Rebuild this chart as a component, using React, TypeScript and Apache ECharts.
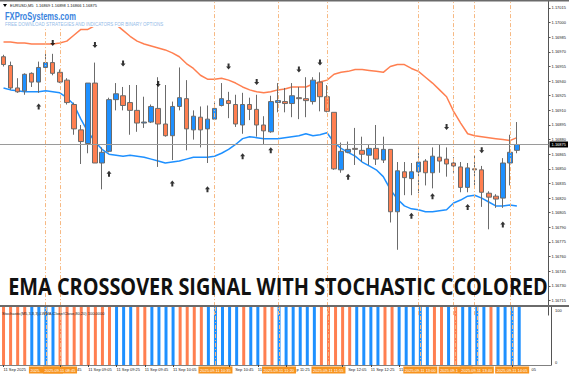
import React, { useEffect, useRef } from 'react';
import * as echarts from 'echarts';

// ---- data (EURUSD M5, 11 Sep 2025, first bar 08:05) ----
const candleOpen = [1.16965,1.16956,1.16933,1.16930,1.16948,1.16939,1.16954,1.16959,1.16949,1.16941,1.16916,1.16890,1.16876,1.16938,1.16856,1.16868,1.16921,1.16925,1.16918,1.16910,1.16897,1.16898,1.16912,1.16896,1.16884,1.16914,1.16922,1.16890,1.16903,1.16891,1.16901,1.16915,1.16920,1.16916,1.16895,1.16916,1.16911,1.16895,1.16888,1.16918,1.16919,1.16917,1.16923,1.16922,1.16919,1.16939,1.16924,1.16908,1.16849,1.16867,1.16871,1.16869,1.16864,1.16871,1.16859,1.16870,1.16806,1.16847,1.16840,1.16847,1.16858,1.16846,1.16862,1.16860,1.16856,1.16852,1.16831,1.16850,1.16849,1.16825,1.16822,1.16820,1.16856,1.16869];
const candleClose = [1.16957,1.16933,1.16929,1.16947,1.16939,1.16954,1.16959,1.16948,1.16939,1.16918,1.16891,1.16878,1.16938,1.16856,1.16867,1.16921,1.16927,1.16915,1.16910,1.16897,1.16898,1.16914,1.16896,1.16884,1.16914,1.16923,1.16891,1.16904,1.16890,1.16901,1.16912,1.16922,1.16917,1.16896,1.16916,1.16911,1.16895,1.16889,1.16919,1.16920,1.16917,1.16925,1.16922,1.16920,1.16941,1.16924,1.16909,1.16850,1.16868,1.16870,1.16870,1.16865,1.16871,1.16860,1.16870,1.16806,1.16848,1.16841,1.16847,1.16857,1.16846,1.16863,1.16858,1.16855,1.16853,1.16831,1.16851,1.16849,1.16826,1.16821,1.16819,1.16856,1.16867,1.16875];
const candleLow = [1.16955,1.16931,1.16928,1.16926,1.16934,1.16928,1.16952,1.16946,1.16938,1.16916,1.16885,1.16855,1.16866,1.16856,1.16829,1.16867,1.16910,1.16910,1.16885,1.16888,1.16892,1.16897,1.16852,1.16883,1.16859,1.16910,1.16869,1.16880,1.16872,1.16856,1.16900,1.16914,1.16902,1.16893,1.16886,1.16900,1.16883,1.16875,1.16887,1.16908,1.16908,1.16903,1.16901,1.16903,1.16916,1.16909,1.16908,1.16849,1.16846,1.16866,1.16854,1.16857,1.16854,1.16854,1.16856,1.16795,1.16767,1.16823,1.16823,1.16825,1.16833,1.16830,1.16846,1.16842,1.16846,1.16826,1.16826,1.16833,1.16811,1.16788,1.16810,1.16810,1.16833,1.16866];
const candleHigh = [1.16967,1.16960,1.16943,1.16948,1.16949,1.16960,1.16968,1.16968,1.16952,1.16943,1.16918,1.16895,1.16938,1.16959,1.16872,1.16923,1.16938,1.16934,1.16936,1.16936,1.16924,1.16916,1.16944,1.16936,1.16919,1.16954,1.16941,1.16910,1.16914,1.16915,1.16918,1.16938,1.16929,1.16926,1.16928,1.16923,1.16926,1.16904,1.16925,1.16938,1.16933,1.16938,1.16934,1.16944,1.16944,1.16949,1.16936,1.16908,1.16877,1.16878,1.16892,1.16883,1.16875,1.16895,1.16883,1.16870,1.16857,1.16857,1.16856,1.16872,1.16860,1.16872,1.16875,1.16872,1.16862,1.16857,1.16856,1.16864,1.16853,1.16827,1.16824,1.16861,1.16885,1.16898];

const upperLine = [1.16980,1.16980,1.16979,1.16979,1.16978,1.16978,1.16978,1.16978,1.16979,1.16981,1.16987,1.16993,1.16993,1.16997,1.17002,1.17000,1.16998,1.16992,1.16986,1.16981,1.16978,1.16976,1.16974,1.16972,1.16969,1.16965,1.16958,1.16953,1.16946,1.16942,1.16942,1.16943,1.16941,1.16938,1.16934,1.16931,1.16929,1.16928,1.16929,1.16931,1.16932,1.16934,1.16934,1.16934,1.16937,1.16939,1.16941,1.16947,1.16949,1.16950,1.16952,1.16952,1.16951,1.16950,1.16949,1.16955,1.16957,1.16957,1.16953,1.16950,1.16944,1.16938,1.16931,1.16924,1.16909,1.16897,1.16886,1.16884,1.16883,1.16882,1.16881,1.16880,1.16879,1.16882];
const lowerLine = [1.16933,1.16931,1.16930,1.16929,1.16929,1.16929,1.16930,1.16929,1.16928,1.16923,1.16916,1.16901,1.16888,1.16878,1.16870,1.16865,1.16864,1.16863,1.16864,1.16863,1.16862,1.16860,1.16858,1.16856,1.16857,1.16858,1.16860,1.16862,1.16862,1.16862,1.16863,1.16866,1.16870,1.16875,1.16881,1.16883,1.16882,1.16881,1.16881,1.16881,1.16882,1.16883,1.16884,1.16886,1.16884,1.16885,1.16887,1.16877,1.16871,1.16867,1.16863,1.16857,1.16853,1.16849,1.16842,1.16829,1.16819,1.16812,1.16809,1.16808,1.16806,1.16806,1.16807,1.16808,1.16815,1.16818,1.16822,1.16823,1.16820,1.16816,1.16812,1.16812,1.16813,1.16812];

const sellIdx = [7, 13, 17, 22, 32, 36, 42, 45, 63, 68];
const sellPrice = [1.16979,1.16977,1.16958,1.16937,1.16955,1.16939,1.16952,1.16959,1.16893,1.16869];
const buyIdx = [5, 15, 24, 29, 34, 38, 49, 58, 61, 66, 71];
const buyPrice = [1.16914,1.16845,1.16835,1.16829,1.16863,1.16869,1.16842,1.16802,1.16822,1.16811,1.16793];

const vLineIdx = [6, 8, 30, 39, 46, 59, 64, 67, 72];
const vLineText = ['2025.09.11 08:35','2025.09.11 08:45','2025.09.11 10:35','2025.09.11 11:20','2025.09.11 11:55','2025.09.11 13:00','2025.09.11 13:25','2025.09.11 13:40','2025.09.11 14:05'];

const stochHist = [100,100,100,100,100,100,100,100,100,100,100,100,100,100,100,100,100,100,100,100,100,100,100,100,100,100,100,100,100,100,100,100,100,100,100,100,100,100,100,100,100,100,100,100,100,100,100,100,100,100,100,100,100,100,100,100,100,100,100,100,100,100,100,100,100,100,100,100,100,100,100,100,100,100];
const stochUp = [0,0,0,0,1,1,1,1,0,0,0,0,0,0,0,0,1,1,1,0,0,1,1,1,1,0,0,0,0,1,1,1,1,1,0,1,1,0,0,1,1,1,1,1,1,0,0,0,0,0,1,1,1,1,0,0,1,1,1,1,1,0,0,1,0,1,1,1,1,0,1,1,1,1];

// time-axis labels (the parts not covered by the vertical-line tags)
const tickIdx = [0, 8, 12, 16, 20, 24, 32, 36, 40, 48, 52, 56, 72];
const tickText = ['11 Sep 2025', '45', '11 Sep 09:05', '11 Sep 09:25', '11 Sep 09:45', '11 Sep 10:05', 'Sep 10:45', '11', 'p 11:25', 'Sep 12:05', '11 Sep 12:25', '11', '05'];
const tickShift = [0, 17, 0, 0, 0, 0, 5.6, 0, 10.5, 5.6, 0, 0, 19.4];

const lastPrice = 1.16875;
const SLOTS = 78;

const BLUE = '#1E90FF';
const ORANGE = '#FF7F50';
const FONT = 'Liberation Sans, DejaVu Sans, sans-serif';

function measure(text: string, font: string) {
  const c = document.createElement('canvas').getContext('2d')!;
  c.font = font;
  return c.measureText(text).width;
}

export default function App() {
  const ref = useRef<HTMLDivElement>(null);
  useEffect(() => {
    document.body.style.margin = '0';
    const chart = echarts.init(ref.current!, null, { renderer: 'svg' });
    const cats = Array.from({ length: SLOTS }, (_, i) => String(i));
    const candles = candleOpen.map((o, i) => [o, candleClose[i], candleLow[i], candleHigh[i]]);
    const showTick = (i: number) => tickIdx.indexOf(i) >= 0;
    const vLineStyle = { color: '#f7b983', type: [4, 2, 1, 2], width: 1 };
    const rich: any = {};
    tickShift.forEach((s, k) => {
      rich['t' + k] = { fontSize: 4, color: '#222', fontFamily: FONT, padding: [0, 0, 0, s] };
    });

    const option: any = {
      animation: false,
      backgroundColor: '#ffffff',
      grid: [
        { left: -5.7, right: 18, top: 0, height: 315.1 },
        { left: -5.7, right: 18, top: 307, height: 58 },
      ],
      xAxis: [
        { type: 'category', gridIndex: 0, data: cats, boundaryGap: true, show: false },
        {
          type: 'category', gridIndex: 1, data: cats, boundaryGap: true,
          axisLine: { show: true, onZero: false, lineStyle: { color: '#808080', width: 1 } },
          axisTick: { show: true, interval: showTick, alignWithLabel: true, length: 2, lineStyle: { color: '#444' } },
          axisLabel: {
            interval: showTick, align: 'left', fontSize: 4, color: '#222', margin: 2, fontFamily: FONT, rich,
            formatter: (_v: string, i: number) => { const k = tickIdx.indexOf(i); return k >= 0 ? '{t' + k + '|' + tickText[k] + '}' : ''; },
          },
        },
      ],
      yAxis: [
        {
          type: 'value', gridIndex: 0, position: 'right', min: 1.167, max: 1.170232, interval: 0.00015,
          splitLine: { show: false },
          axisLine: { show: true, lineStyle: { color: '#555', width: 1 } },
          axisTick: { show: true, length: 2, lineStyle: { color: '#555' } },
          axisLabel: {
            showMinLabel: false, showMaxLabel: false, fontSize: 4, margin: 3, color: '#222', fontFamily: FONT,
            formatter: (v: number) => (v > 1.16714 && v < 1.17016 ? v.toFixed(5) : ''),
          },
        },
        {
          type: 'value', gridIndex: 1, position: 'right', min: 0, max: 100, interval: 100,
          splitLine: { show: false },
          axisLine: { show: true, lineStyle: { color: '#555', width: 1 } },
          axisTick: { show: false },
          axisLabel: {
            fontSize: 4, margin: 4, color: '#222', fontFamily: FONT,
            formatter: (v: number) => (v === 100 ? '{a|100}' : '{b|0}'),
            rich: { a: { fontSize: 4, padding: [6, 0, 0, 0] }, b: { fontSize: 4, padding: [0, 0, 6, 0] } },
          },
        },
      ],
      series: [
        {
          type: 'line', xAxisIndex: 0, yAxisIndex: 0, data: upperLine, showSymbol: false,
          lineStyle: { color: ORANGE, width: 1.5 }, z: 2,
        },
        {
          type: 'line', xAxisIndex: 0, yAxisIndex: 0, data: lowerLine, showSymbol: false,
          lineStyle: { color: BLUE, width: 1.5 }, z: 2,
        },
        {
          type: 'candlestick', xAxisIndex: 0, yAxisIndex: 0, data: candles, barWidth: 5, z: 3,
          itemStyle: { color: BLUE, color0: ORANGE, borderColor: '#6b6b6b', borderColor0: '#6b6b6b', borderWidth: 1 },
          markLine: {
            silent: true, symbol: ['none', 'none'], label: { show: false }, lineStyle: vLineStyle,
            data: vLineIdx.map((i) => ({ xAxis: i })),
          },
        },
        {
          // current price line with its tag on the price scale
          type: 'line', xAxisIndex: 0, yAxisIndex: 0, data: [], z: 1,
          markLine: {
            silent: true, symbol: ['none', 'none'], precision: 5,
            lineStyle: { color: '#9a9a9a', type: 'solid', width: 1 },
            label: { show: true, position: 'end', formatter: lastPrice.toFixed(5), backgroundColor: '#000', color: '#fff', fontSize: 4, padding: [1, 2], distance: 1, fontFamily: FONT },
            data: [{ yAxis: lastPrice }],
          },
        },
        {
          type: 'scatter', xAxisIndex: 0, yAxisIndex: 0, z: 4,
          data: sellIdx.map((i, k) => [i, sellPrice[k]]),
          symbol: 'path://M3 0 L7 0 L7 5 L10 5 L5 10 L0 5 L3 5 Z', symbolSize: [5, 6],
          itemStyle: { color: '#000' },
        },
        {
          type: 'scatter', xAxisIndex: 0, yAxisIndex: 0, z: 4,
          data: buyIdx.map((i, k) => [i, buyPrice[k]]),
          symbol: 'path://M5 0 L10 5 L7 5 L7 10 L3 10 L3 5 L0 5 Z', symbolSize: [5, 6],
          itemStyle: { color: '#000' },
        },
        {
          type: 'bar', xAxisIndex: 1, yAxisIndex: 1, barWidth: 3,
          data: stochHist.map((v, i) => ({ value: v, itemStyle: { color: stochUp[i] ? BLUE : ORANGE } })),
          markLine: {
            silent: true, symbol: ['none', 'none'], label: { show: false }, lineStyle: vLineStyle,
            data: vLineIdx.map((i) => ({ xAxis: i })),
          },
        },
      ],
    };
    chart.setOption(option);

    const title = 'EMA CROSSOVER SIGNAL WITH STOCHASTIC CCOLORED';
    const titleFont = 'bold 24px "Open Sans"';
    const titleScale = 540 / measure(title, titleFont);
    const logo = 'FXProSystems.com';
    const logoFont = 'bold 11px "Liberation Sans"';
    const logoScale = 71 / measure(logo, logoFont);

    const BOX_W = 34;
    const xs = vLineIdx.map((idx) => chart.convertToPixel({ xAxisIndex: 1 }, idx) as number);
    const boxes: any[] = xs.map((x, k) => {
      const left = x - BOX_W / 2;
      const nextLeft = k + 1 < xs.length ? xs[k + 1] - BOX_W / 2 : Infinity;
      const visible = Math.min(BOX_W, nextLeft - left) - 2;
      return {
        type: 'group', x: left, y: 366.5, z: 50,
        children: [
          { type: 'rect', shape: { x: 0, y: 0, width: BOX_W, height: 7 }, style: { fill: '#f7931e' } },
          {
            type: 'text', x: 1.5, y: 3.5,
            style: { text: vLineText[k], fill: '#fff', fontSize: 4, fontFamily: FONT, verticalAlign: 'middle', width: visible, overflow: 'truncate', ellipsis: '' },
          },
        ],
      };
    });

    chart.setOption({
      graphic: [
        { type: 'rect', z: 40, shape: { x: 0, y: 0, width: 569, height: 1.5 }, style: { fill: '#6a6a6a' } },
        { type: 'rect', z: 40, shape: { x: 0, y: 305, width: 569, height: 2 }, style: { fill: '#6a6a6a' } },
        { type: 'rect', z: 30, shape: { x: 0, y: 2, width: 172, height: 25 }, style: { fill: '#fff' } },
        { type: 'polygon', z: 31, shape: { points: [[3, 4], [7, 4], [5, 7]] }, style: { fill: '#000' } },
        { type: 'text', z: 31, x: 10, y: 5.5, style: { text: 'EURUSD,M5  1.16869 1.16898 1.16866 1.16875', fill: '#111', fontSize: 4, fontFamily: FONT, verticalAlign: 'middle' } },
        { type: 'text', z: 31, x: 5, y: 16, scaleX: logoScale, style: { text: logo, fill: '#3a84de', font: logoFont, verticalAlign: 'middle' } },
        { type: 'text', z: 31, x: 5, y: 24.5, style: { text: 'FREE DOWNLOAD STRATEGIES AND INDICATORS FOR BINARY OPTIONS', fill: '#93bbe8', fontSize: 4.5, fontFamily: FONT, verticalAlign: 'middle' } },
        { type: 'text', z: 31, x: 278, y: 285, scaleX: titleScale, style: { text: title, fill: '#111', font: titleFont, align: 'center', verticalAlign: 'middle' } },
        { type: 'text', z: 31, x: 2, y: 313, style: { text: 'Stochastic(M5,3,3,3),LWMA,Close/Close,80,20) 100.0000', fill: '#222', fontSize: 4, fontFamily: FONT, verticalAlign: 'middle' } },
        ...boxes,
      ],
    });
    return () => chart.dispose();
  }, []);
  return <div ref={ref} style={{ position: 'fixed', left: 0, top: 0, width: 569, height: 375 }} />;
}
